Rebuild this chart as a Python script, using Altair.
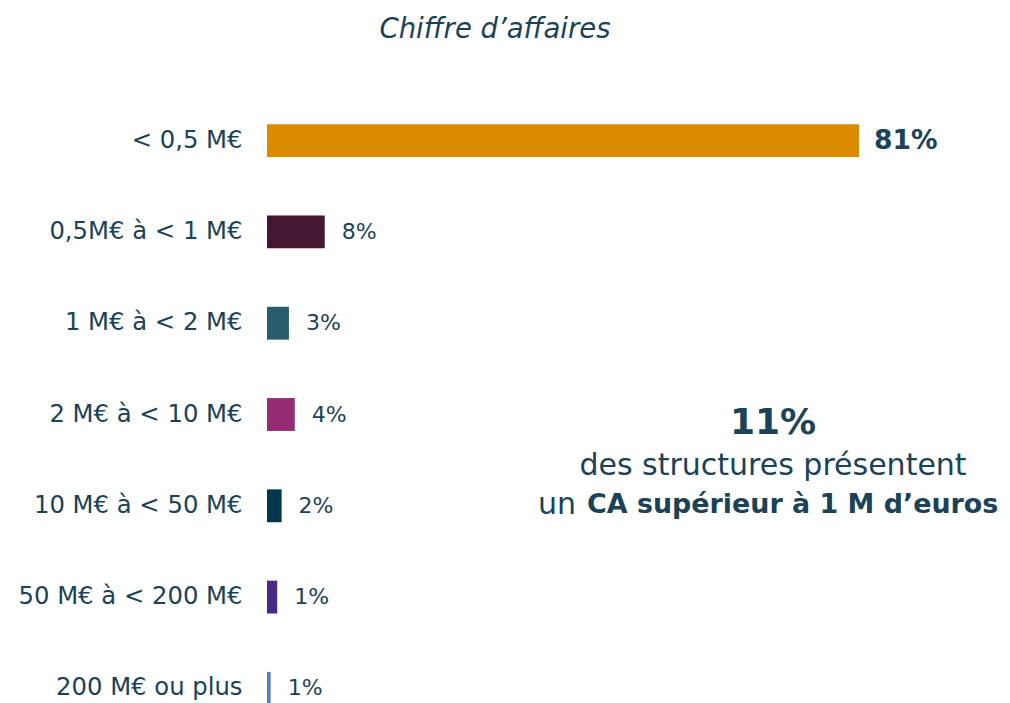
import altair as alt
import pandas as pd

categories = ["< 0,5 M€", "0,5M€ à < 1 M€", "1 M€ à < 2 M€", "2 M€ à < 10 M€",
              "10 M€ à < 50 M€", "50 M€ à < 200 M€", "200 M€ ou plus"]
values = [81, 7.9, 3.0, 3.8, 2.0, 1.4, 0.5]
labels = ["81%", "8%", "3%", "4%", "2%", "1%", "1%"]
colors = ["#DB8B00", "#461733", "#285D6E", "#962A73", "#04374D", "#472C85", "#4F81BD"]
bold = [True, False, False, False, False, False, False]

TXT = "#1B4257"
FONT = "DejaVu Sans"

df = pd.DataFrame({"cat": categories, "val": values, "lab": labels,
                   "col": colors, "bold": bold})

y = alt.Y("cat:N", sort=categories,
          scale=alt.Scale(paddingInner=0.64, paddingOuter=0.32),
          axis=alt.Axis(title=None, ticks=False, domain=False, labelPadding=25,
                        labelFontSize=24.3, labelColor=TXT, labelFont=FONT,
                        labelLimit=300))
x = alt.X("val:Q", scale=alt.Scale(domain=[0, 81]), axis=None)

base = alt.Chart(df)
bars = base.mark_bar().encode(
    x=x, y=y,
    color=alt.Color("col:N", scale=None, legend=None),
)
lab_norm = base.transform_filter("!datum.bold").mark_text(
    align="left", baseline="middle", dx=17, fontSize=22, font=FONT, color=TXT
).encode(x=x, y=y, text="lab:N")
lab_bold = base.transform_filter("datum.bold").mark_text(
    align="left", baseline="middle", dx=15, fontSize=26.5, fontWeight="bold",
    font=FONT, color=TXT
).encode(x=x, y=y, text="lab:N")

ann = pd.DataFrame({"t": ["x"]})
def txt(s, px, py, size, weight="normal", align="center", style="normal"):
    return alt.Chart(ann).mark_text(
        text=s, align=align, baseline="middle", fontSize=size, fontWeight=weight,
        font=FONT, color=TXT, fontStyle=style
    ).encode(x=alt.value(px), y=alt.value(py))

title = txt("Chiffre d\u2019affaires", 228, -65, 27.5, style="italic")
a1 = txt("11%", 506, 328, 36, weight="bold")
a2 = txt("des structures présentent", 506, 371, 30)
a3 = txt("un", 309, 410, 30, align="right")
a4 = txt("CA supérieur à 1 M d\u2019euros", 320, 410, 26.9, weight="bold", align="left")

chart = alt.layer(bars, lab_norm, lab_bold, title, a1, a2, a3, a4).properties(
    width=592, height=639,
    autosize=alt.AutoSizeParams(type="none"),
    padding={"left": 259, "top": 87, "right": 143, "bottom": 10},
).configure(background="white").configure_view(stroke=None, strokeWidth=0)

chart.save("out.html", embed_options={"renderer": "svg", "actions": False})
